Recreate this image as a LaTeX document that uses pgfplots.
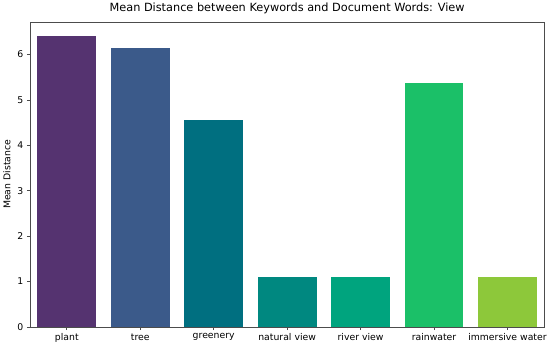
\documentclass[border=0pt]{standalone}
\usepackage{pgfplots}
\pgfplotsset{compat=1.18}
\usepackage{fontspec}
\setmainfont{DejaVu Sans}

\definecolor{c1}{HTML}{553370}
\definecolor{c2}{HTML}{3B5A8A}
\definecolor{c3}{HTML}{006F80}
\definecolor{c4}{HTML}{008880}
\definecolor{c5}{HTML}{00A47E}
\definecolor{c6}{HTML}{1BC068}
\definecolor{c7}{HTML}{8DC83A}

\begin{document}
\begin{tikzpicture}
\begin{axis}[
    width=514pt, height=305pt, scale only axis,
    xmin=-0.5, xmax=6.5, ymin=0, ymax=6.72,
    xtick={0,...,6},
    xticklabels={plant, tree, greenery, natural view, river view, rainwater, immersive water},
    ytick={0,...,6},
    tick align=outside, tick pos=left,
    major tick length=3.2pt,
    tick style={color=black!70, line width=0.6pt},
    axis line style={black!70, line width=0.6pt},
    ticklabel style={font=\fontsize{9.3}{11}\selectfont},
    /pgf/number format/assume math mode=true,
    ylabel={Mean Distance},
    ylabel style={font=\fontsize{9.3}{11}\selectfont},
    title={Mean Distance between Keywords and Document Words: View},
    title style={font=\fontsize{11.3}{13}\selectfont, yshift=-2pt},
    ybar, bar width=0.8, bar shift=0pt,
    every axis plot/.append style={draw=none},
]
\addplot[fill=c1] coordinates {(0,6.40)};
\addplot[fill=c2] coordinates {(1,6.14)};
\addplot[fill=c3] coordinates {(2,4.56)};
\addplot[fill=c4] coordinates {(3,1.10)};
\addplot[fill=c5] coordinates {(4,1.10)};
\addplot[fill=c6] coordinates {(5,5.38)};
\addplot[fill=c7] coordinates {(6,1.10)};
\end{axis}
\end{tikzpicture}
\end{document}
